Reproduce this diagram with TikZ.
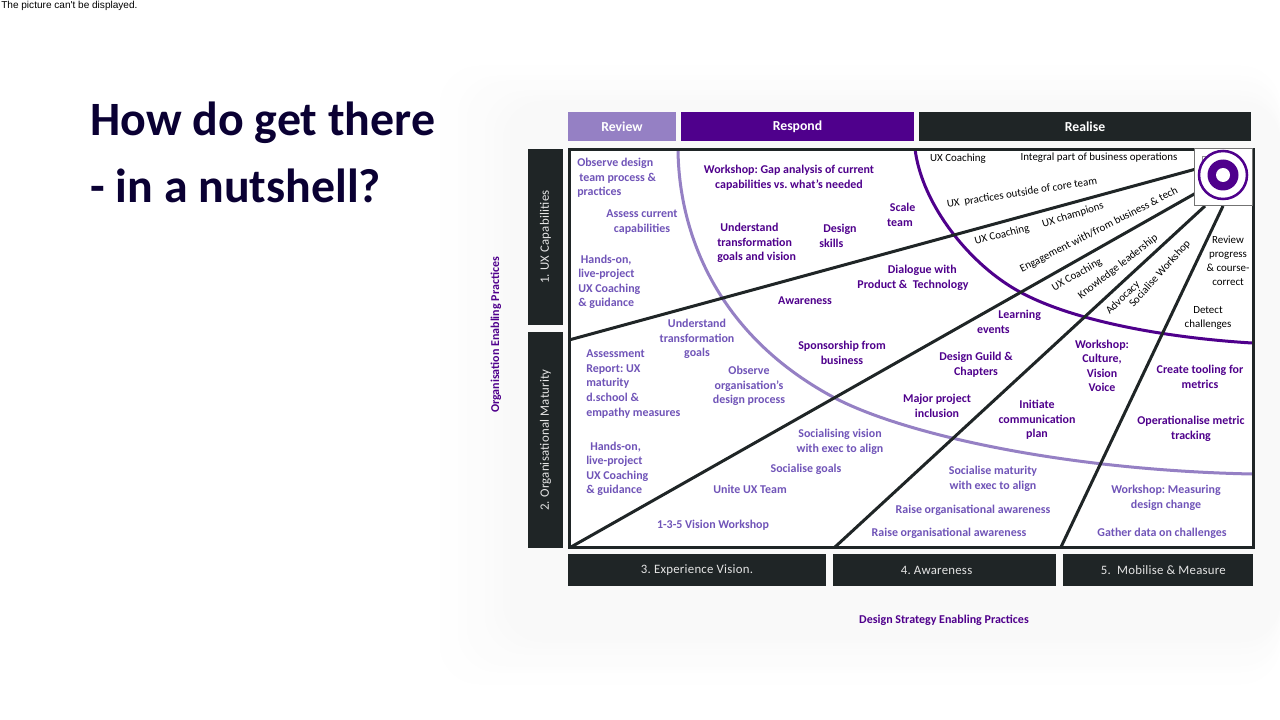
\documentclass[tikz,border=0pt]{standalone}
\usepackage{fontspec}
\setmainfont{Carlito}
\newfontfamily\notefont{Liberation Sans}
\AtBeginDocument{\frenchspacing}
\definecolor{deepp}{HTML}{4F008C}
\definecolor{softp}{HTML}{9580C4}
\definecolor{softt}{HTML}{7054B8}
\definecolor{dark}{HTML}{1F2526}
\definecolor{navy}{HTML}{0A0033}
\newcommand{\lsz}{\fontsize{8.95}{10.9}\selectfont}
\tikzset{
  x=0.75pt,y=-0.75pt,
  lab/.style={inner sep=0pt,align=center,yshift=-0.75pt,font=\lsz},
  tdeep/.style={lab,text=deepp,font=\lsz\bfseries},
  tsoft/.style={lab,text=softt,font=\lsz\bfseries},
  tblack/.style={lab,text=black,font=\fontsize{8.2}{10.4}\selectfont},
  hdr/.style={inner sep=0pt,text=white,font=\fontsize{10.3}{12}\selectfont\bfseries},
  side/.style={inner sep=0pt,text=white!90!black,font=\fontsize{9.6}{12}\selectfont\addfontfeatures{LetterSpace=2}},
  fan/.style={draw=dark,line width=2.25pt},
  softarc/.style={draw=softp,line width=2.25pt},
  deeparc/.style={draw=deepp,line width=2.25pt},
  axis/.style={inner sep=0pt,text=deepp,yshift=-0.75pt,font=\fontsize{9}{11}\selectfont\bfseries},
  ttl/.style={anchor=base west,inner sep=0pt,text=navy,font=\fontsize{35.9}{40}\selectfont\bfseries}
}
\begin{document}
\begin{tikzpicture}
\useasboundingbox (0,0) rectangle (1280,720);
\fill[white] (0,0) rectangle (1280,720);
% soft glow behind the chart
\foreach \i in {0,...,8}{
  \pgfmathsetmacro{\sh}{0.27*(\i+1)}
  \fill[black!\sh,rounded corners=30pt] (440+\i*9,66+\i*5) rectangle (1280,684-\i*6);
}
% title and note
\node[anchor=west,inner sep=0pt,font=\notefont\fontsize{7.55}{9}\selectfont] (note) at (1,6) {The picture can't be displayed.};
\node[ttl] (t1) at (90,136) {How do get there};
\node[ttl] (t2) at (90,203) {- in a nutshell?};
% headers
\node[hdr,fill=softp,minimum width=81pt,minimum height=21.75pt] (review) at (622,126.5) {Review};
\node[hdr,fill=deepp,minimum width=174.75pt,minimum height=21.75pt] (respond) at (797.5,126.5) {Respond};
\node[hdr,fill=dark,minimum width=249pt,minimum height=21.75pt] (realise) at (1085,126.5) {Realise};
% side labels
\node[side,fill=dark,rotate=90,minimum width=132pt,minimum height=26.25pt] (s1) at (545.5,237) {1. UX Capabilities};
\node[side,fill=dark,rotate=90,minimum width=162pt,minimum height=26.25pt] (s2) at (545.5,440) {2. Organisational Maturity};
% bottom labels
\node[side,fill=dark,minimum width=193.5pt,minimum height=24pt] (b3) at (697,570) {3. Experience Vision.};
\node[side,fill=dark,minimum width=167.25pt,minimum height=24pt] (b4) at (944.5,570) {\hspace*{-12pt}4. Awareness};
\node[side,fill=dark,minimum width=142.5pt,minimum height=24pt] (b5) at (1158,570) {\hspace*{8pt}5.\ \ Mobilise \& Measure};
% frame corners and fan ends
\coordinate (ftl) at (569,150);
\coordinate (fbr) at (1253,547);
\coordinate (a1) at (1196,169); \coordinate (a2) at (569,340);
\coordinate (b1) at (1196,193); \coordinate (b2) at (571,547);
\coordinate (c1) at (1205,206); \coordinate (c2) at (835,547);
\coordinate (d1) at (1223,206); \coordinate (d2) at (1061,547);
\fill[white] (ftl) rectangle (fbr);
\draw[softarc] (678,150) .. controls (679,235) and (718,335) .. (833,397) .. controls (900,433) and (1060,470) .. (1252,474);
\draw[deeparc] (915,149) .. controls (922,205) and (970,265) .. (1020,292) .. controls (1075,322) and (1170,338) .. (1252,343);
\draw[fan] (a1) -- (a2);
\draw[fan] (b1) -- (b2);
\draw[fan] (c1) -- (c2);
\draw[fan] (d1) -- (d2);
\draw[draw=dark,line width=2.25pt] (ftl) rectangle (fbr);
% target
\node[draw=black!55,fill=white,line width=0.6pt,minimum width=43.5pt,minimum height=43pt,inner sep=0pt] (targetbox) at (1223,177) {};
\draw[black!45,line width=0.6pt] (1202,169) -- (1202,156) -- (1214,156);
\draw[deepp,fill=white,line width=1.9pt] (1223,175) circle (24);
\fill[deepp] (1223,175) circle (15.5);
\fill[white] (1223,175) circle (7);
% black labels
\node[tblack] (k1) at (958,158) {UX Coaching};
\node[tblack] (k2) at (1099,157) {Integral part of business operations};
\node[tblack,rotate=9] (k3) at (1022,192) {UX\ \ practices outside of core team};
\node[tblack,rotate=14] (k4) at (1002,234) {UX Coaching};
\node[tblack,rotate=17] (k5) at (1073,214) {UX champions};
\node[tblack,rotate=27] (k6) at (1099,229) {Engagement with/from business \& tech};
\node[tblack,rotate=30] (k7) at (1077,274) {UX Coaching};
\node[tblack,rotate=38] (k8) at (1118,266) {Knowledge leadership};
\node[tblack,rotate=44] (k9) at (1123,297) {Advocacy};
\node[tblack,rotate=48] (k10) at (1160,273) {Socialise Workshop};
\node[tblack] (k11) at (1228,260) {Review\\progress\\\& course-\\correct};
\node[tblack] (k12) at (1208,317) {Detect\\challenges};
% deep purple labels
\node[tdeep] (p1) at (789,177) {Workshop: Gap analysis of current\\capabilities vs. what's needed};
\node[tdeep,anchor=west,align=left] (p2) at (717,242) {\hspace*{2.3pt}Understand\\transformation\\goals and vision};
\node[tdeep,align=left] (p3) at (838,235) {\hspace*{3pt}Design\\skills};
\node[tdeep] (p4) at (900,214) {\hspace*{4pt}Scale\\team};
\node[tdeep] (p5) at (913,277) {\hspace*{14pt}Dialogue with\\Product \&\ \ Technology};
\node[tdeep] (p6) at (805,300) {Awareness};
\node[tdeep] (p7) at (842,352) {Sponsorship from\\business};
\node[tdeep,align=left] (p8) at (1009,321) {\hspace*{16pt}Learning\\events};
\node[tdeep] (p9) at (976,364) {Design Guild \&\\Chapters};
\node[tdeep] (p10) at (937,405) {Major project\\inclusion};
\node[tdeep] (p11) at (1102,365) {Workshop:\\Culture,\\Vision\\Voice};
\node[tdeep] (p12) at (1037,419) {Initiate\\communication\\plan};
\node[tdeep] (p13) at (1200,376) {Create tooling for\\metrics};
\node[tdeep] (p14) at (1191,428) {Operationalise metric\\tracking};
% soft purple labels
\node[tsoft,anchor=west,align=left] (q1) at (577,177) {Observe design\\\hspace*{1.5pt}team process \&\\practices};
\node[tsoft] (q2) at (642,221) {Assess current\\capabilities};
\node[tsoft,anchor=west,align=left] (q3) at (578,281) {\hspace*{2pt}Hands-on,\\live-project\\UX Coaching\\\& guidance};
\node[tsoft] (q4) at (697,338) {Understand\\transformation\\goals};
\node[tsoft,anchor=west,align=left] (q5) at (586,383) {Assessment\\Report: UX\\maturity\\d.school \&\\empathy measures};
\node[tsoft] (q6) at (749,385) {Observe\\organisation's\\design process};
\node[tsoft,anchor=west,align=left] (q7) at (586,468) {\hspace*{3pt}Hands-on,\\live-project\\UX Coaching\\\& guidance};
\node[tsoft] (q8) at (840,441) {Socialising vision\\with exec to align};
\node[tsoft] (q9) at (806,468) {Socialise goals};
\node[tsoft] (q10) at (750,488) {Unite UX Team};
\node[tsoft] (q11) at (713,524) {1-3-5 Vision Workshop};
\node[tsoft] (q12) at (993,478) {Socialise maturity\\with exec to align};
\node[tsoft] (q13) at (973,509) {Raise organisational awareness};
\node[tsoft] (q14) at (949,532) {Raise organisational awareness};
\node[tsoft] (q15) at (1166,497) {Workshop: Measuring\\design change};
\node[tsoft] (q16) at (1162,532) {Gather data on challenges};
% axis titles
\node[axis,rotate=90] (ax1) at (496,334) {Organisation Enabling Practices};
\node[axis] (ax2) at (944,619) {Design Strategy Enabling Practices};
\end{tikzpicture}
\end{document}
